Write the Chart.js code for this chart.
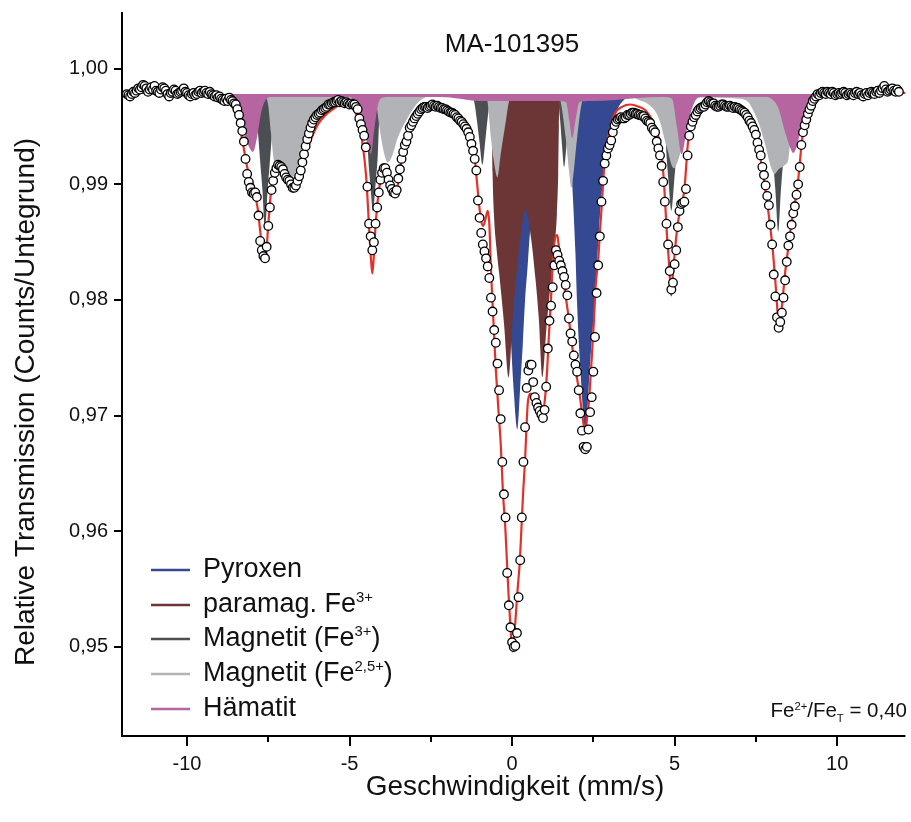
<!DOCTYPE html>
<html>
<head>
<meta charset="utf-8">
<title>MA-101395</title>
<script src="https://cdn.jsdelivr.net/npm/chart.js@4/dist/chart.umd.min.js"></script>
<style>
  html, body { margin: 0; padding: 0; background: #fff; }
  #wrap { width: 911px; height: 822px; }
</style>
</head>
<body>
<div id="wrap"><canvas id="spectrumChart" width="911" height="822"></canvas></div>
<script>
    // velocity channels (mm/s)
    var velStart = -11.85;
    var velStep = 0.05;

    // measured relative transmission, one value per channel
    var transmission = [
        0.9978, 0.9977, 0.9976, 0.9978, 0.9980, 0.9979, 0.9981, 0.9983, 0.9982, 0.9984, 0.9986, 0.9985, 0.9983, 0.9980, 0.9982, 0.9984, 0.9982, 0.9985, 0.9981, 0.9980,
        0.9979, 0.9982, 0.9984, 0.9983, 0.9981, 0.9978, 0.9976, 0.9979, 0.9980, 0.9982, 0.9981, 0.9978, 0.9979, 0.9980, 0.9981, 0.9983, 0.9980, 0.9979, 0.9977, 0.9976,
        0.9978, 0.9979, 0.9977, 0.9978, 0.9980, 0.9981, 0.9979, 0.9980, 0.9981, 0.9979, 0.9978, 0.9980, 0.9978, 0.9977, 0.9976, 0.9977, 0.9975, 0.9976, 0.9974, 0.9973,
        0.9972, 0.9974, 0.9972, 0.9975, 0.9973, 0.9972, 0.9970, 0.9969, 0.9965, 0.9960, 0.9953, 0.9946, 0.9937, 0.9922, 0.9909, 0.9902, 0.9897, 0.9893, 0.9892, 0.9893,
        0.9889, 0.9873, 0.9851, 0.9843, 0.9838, 0.9836, 0.9846, 0.9864, 0.9880, 0.9895, 0.9903, 0.9910, 0.9914, 0.9917, 0.9916, 0.9915, 0.9913, 0.9909, 0.9906, 0.9904,
        0.9903, 0.9900, 0.9897, 0.9897, 0.9899, 0.9903, 0.9907, 0.9912, 0.9919, 0.9926, 0.9933, 0.9939, 0.9944, 0.9949, 0.9953, 0.9956, 0.9958, 0.9960, 0.9961, 0.9962,
        0.9964, 0.9965, 0.9966, 0.9967, 0.9969, 0.9969, 0.9970, 0.9971, 0.9971, 0.9972, 0.9973, 0.9971, 0.9972, 0.9971, 0.9970, 0.9971, 0.9970, 0.9969, 0.9970, 0.9969,
        0.9969, 0.9967, 0.9965, 0.9957, 0.9952, 0.9947, 0.9942, 0.9932, 0.9898, 0.9866, 0.9855, 0.9843, 0.9850, 0.9866, 0.9880, 0.9893, 0.9904, 0.9910, 0.9914, 0.9914,
        0.9910, 0.9904, 0.9899, 0.9896, 0.9893, 0.9892, 0.9895, 0.9905, 0.9913, 0.9922, 0.9928, 0.9934, 0.9937, 0.9942, 0.9949, 0.9951, 0.9954, 0.9957, 0.9959, 0.9961,
        0.9963, 0.9965, 0.9966, 0.9967, 0.9967, 0.9966, 0.9967, 0.9968, 0.9969, 0.9968, 0.9967, 0.9968, 0.9967, 0.9966, 0.9966, 0.9965, 0.9965, 0.9964, 0.9963, 0.9962,
        0.9962, 0.9961, 0.9960, 0.9958, 0.9957, 0.9955, 0.9954, 0.9952, 0.9950, 0.9948, 0.9945, 0.9941, 0.9935, 0.9929, 0.9922, 0.9912, 0.9886, 0.9871, 0.9858, 0.9848,
        0.9842, 0.9836, 0.9829, 0.9819, 0.9802, 0.9790, 0.9774, 0.9763, 0.9745, 0.9722, 0.9697, 0.9660, 0.9632, 0.9612, 0.9564, 0.9536, 0.9517, 0.9504, 0.9500, 0.9501,
        0.9512, 0.9543, 0.9575, 0.9612, 0.9660, 0.9690, 0.9724, 0.9739, 0.9744, 0.9744, 0.9729, 0.9716, 0.9711, 0.9707, 0.9704, 0.9701, 0.9698, 0.9705, 0.9725, 0.9758,
        0.9782, 0.9795, 0.9811, 0.9830, 0.9843, 0.9839, 0.9834, 0.9830, 0.9825, 0.9820, 0.9813, 0.9804, 0.9784, 0.9771, 0.9764, 0.9752, 0.9744, 0.9738, 0.9722, 0.9702,
        0.9687, 0.9673, 0.9671, 0.9673, 0.9688, 0.9703, 0.9716, 0.9738, 0.9768, 0.9806, 0.9830, 0.9855, 0.9885, 0.9903, 0.9918, 0.9925, 0.9931, 0.9934, 0.9938, 0.9945,
        0.9951, 0.9954, 0.9956, 0.9957, 0.9958, 0.9957, 0.9957, 0.9958, 0.9960, 0.9960, 0.9961, 0.9962, 0.9962, 0.9961, 0.9961, 0.9960, 0.9960, 0.9959, 0.9959, 0.9957,
        0.9955, 0.9954, 0.9953, 0.9949, 0.9947, 0.9945, 0.9937, 0.9931, 0.9925, 0.9916, 0.9902, 0.9885, 0.9866, 0.9848, 0.9825, 0.9809, 0.9815, 0.9831, 0.9843, 0.9863,
        0.9877, 0.9883, 0.9884, 0.9885, 0.9896, 0.9925, 0.9942, 0.9950, 0.9954, 0.9958, 0.9960, 0.9963, 0.9965, 0.9966, 0.9967, 0.9967, 0.9969, 0.9971, 0.9972, 0.9971,
        0.9970, 0.9970, 0.9968, 0.9967, 0.9967, 0.9968, 0.9969, 0.9969, 0.9968, 0.9967, 0.9967, 0.9968, 0.9967, 0.9966, 0.9967, 0.9966, 0.9966, 0.9965, 0.9964, 0.9963,
        0.9962, 0.9960, 0.9958, 0.9955, 0.9953, 0.9950, 0.9947, 0.9943, 0.9936, 0.9930, 0.9925, 0.9915, 0.9908, 0.9899, 0.9890, 0.9882, 0.9865, 0.9848, 0.9822, 0.9803,
        0.9785, 0.9776, 0.9781, 0.9789, 0.9802, 0.9817, 0.9833, 0.9847, 0.9855, 0.9865, 0.9875, 0.9881, 0.9891, 0.9900, 0.9915, 0.9934, 0.9945, 0.9951, 0.9956, 0.9961,
        0.9965, 0.9968, 0.9972, 0.9974, 0.9976, 0.9978, 0.9977, 0.9979, 0.9980, 0.9979, 0.9978, 0.9980, 0.9979, 0.9978, 0.9980, 0.9979, 0.9977, 0.9978, 0.9979, 0.9978,
        0.9979, 0.9980, 0.9979, 0.9977, 0.9978, 0.9979, 0.9978, 0.9977, 0.9979, 0.9980, 0.9978, 0.9979, 0.9977, 0.9976, 0.9978, 0.9979, 0.9977, 0.9979, 0.9980, 0.9979,
        0.9978, 0.9980, 0.9981, 0.9979, 0.9981, 0.9983, 0.9985, 0.9982, 0.9980, 0.9981, 0.9982, 0.9983, 0.9981, 0.9980, 0.9982, 0.9980
    ];

    // fitted envelope [velocity, transmission]
    var fitCurve = [
        [-12, 0.9979], [-10, 0.9979], [-9.2, 0.9978], [-9.0, 0.9977], [-8.8, 0.9974], [-8.65, 0.9969], [-8.5, 0.9961],
        [-8.4, 0.9952], [-8.3, 0.9938], [-8.22, 0.9926], [-8.15, 0.9915], [-8.07, 0.9907], [-7.97, 0.9900], [-7.87, 0.9886],
        [-7.82, 0.9878], [-7.75, 0.9860], [-7.68, 0.9841], [-7.62, 0.9833], [-7.56, 0.9842], [-7.5, 0.9865], [-7.41, 0.9895],
        [-7.3, 0.9908], [-7.2, 0.9914], [-7.1, 0.9916], [-7.0, 0.9912], [-6.89, 0.9907], [-6.74, 0.9901], [-6.64, 0.9900],
        [-6.55, 0.9906], [-6.48, 0.9913], [-6.33, 0.9927], [-6.17, 0.9940], [-5.97, 0.9952], [-5.77, 0.9959], [-5.46, 0.9966],
        [-5.2, 0.9969], [-4.95, 0.9967], [-4.85, 0.9964], [-4.69, 0.9950], [-4.59, 0.9933], [-4.49, 0.9907], [-4.44, 0.9884],
        [-4.39, 0.9858], [-4.34, 0.9835], [-4.3, 0.9823], [-4.26, 0.9835], [-4.2, 0.9864], [-4.13, 0.9887], [-4.03, 0.9906],
        [-3.93, 0.9913], [-3.79, 0.9906], [-3.67, 0.9897], [-3.59, 0.9894], [-3.49, 0.9903], [-3.41, 0.9919], [-3.31, 0.9932],
        [-3.16, 0.9946], [-3.0, 0.9955], [-2.8, 0.9962], [-2.55, 0.9966], [-2.24, 0.9967], [-1.93, 0.9965], [-1.63, 0.9960],
        [-1.42, 0.9954], [-1.27, 0.9944], [-1.17, 0.9928], [-1.1, 0.9908], [-1.03, 0.9887], [-0.96, 0.9870], [-0.89, 0.9864],
        [-0.81, 0.9871], [-0.75, 0.9877], [-0.7, 0.9866], [-0.65, 0.9826], [-0.6, 0.9797], [-0.55, 0.9768], [-0.5, 0.9740],
        [-0.42, 0.9705], [-0.35, 0.9676], [-0.28, 0.9633], [-0.21, 0.9604], [-0.16, 0.9575], [-0.11, 0.9546], [-0.05, 0.9518],
        [0.01, 0.9496], [0.09, 0.9518], [0.16, 0.9546], [0.24, 0.9575], [0.29, 0.9604], [0.34, 0.9633], [0.4, 0.9662],
        [0.44, 0.9688], [0.48, 0.9710], [0.52, 0.9717], [0.57, 0.9719], [0.67, 0.9715], [0.78, 0.9708], [0.88, 0.9702],
        [0.93, 0.9701], [1.01, 0.9714], [1.08, 0.9740], [1.13, 0.9768], [1.19, 0.9797], [1.24, 0.9826], [1.29, 0.9846],
        [1.34, 0.9855], [1.39, 0.9856], [1.44, 0.9846], [1.54, 0.9826], [1.65, 0.9803], [1.75, 0.9783], [1.85, 0.9760],
        [1.95, 0.9740], [2.06, 0.9722], [2.14, 0.9705], [2.21, 0.9691], [2.26, 0.9688], [2.31, 0.9699], [2.36, 0.9711],
        [2.41, 0.9731], [2.46, 0.9754], [2.52, 0.9783], [2.57, 0.9812], [2.65, 0.9835], [2.7, 0.9858], [2.75, 0.9878],
        [2.8, 0.9901], [2.85, 0.9921], [2.92, 0.9936], [3.03, 0.9950], [3.18, 0.9962], [3.38, 0.9967], [3.64, 0.9969],
        [3.9, 0.9967], [4.1, 0.9964], [4.3, 0.9956], [4.46, 0.9944], [4.56, 0.9935], [4.66, 0.9907], [4.71, 0.9884],
        [4.76, 0.9858], [4.82, 0.9835], [4.87, 0.9812], [4.9, 0.9804], [4.95, 0.9823], [5.02, 0.9846], [5.09, 0.9864],
        [5.15, 0.9875], [5.22, 0.9884], [5.3, 0.9895], [5.35, 0.9913], [5.4, 0.9933], [5.45, 0.9944], [5.53, 0.9953],
        [5.68, 0.9962], [5.89, 0.9967], [6.14, 0.9970], [6.45, 0.9969], [6.76, 0.9967], [7.02, 0.9965], [7.22, 0.9959],
        [7.37, 0.9952], [7.52, 0.9939], [7.63, 0.9924], [7.73, 0.9907], [7.83, 0.9887], [7.94, 0.9864], [8.02, 0.9843],
        [8.09, 0.9820], [8.16, 0.9792], [8.21, 0.9774], [8.27, 0.9786], [8.34, 0.9806], [8.41, 0.9826], [8.5, 0.9846],
        [8.58, 0.9864], [8.68, 0.9881], [8.78, 0.9898], [8.86, 0.9921], [8.93, 0.9941], [9.01, 0.9953], [9.13, 0.9962],
        [9.32, 0.9970], [9.52, 0.9976], [9.8, 0.9978], [12.1, 0.9979]
    ];

    // subspectra [velocity, transmission], filled up to the baseline
    var baseline = 0.9978;

    var pyroxen = [
        [-12, 0.9978], [-0.4, 0.9978], [-0.3, 0.9940], [-0.15, 0.9850], [-0.05, 0.9775], [0.06, 0.9718], [0.16, 0.9688],
        [0.26, 0.9730], [0.33, 0.9762], [0.4, 0.9800], [0.47, 0.9826], [0.55, 0.9858], [0.7, 0.9890], [0.9, 0.9925],
        [1.1, 0.9950], [1.3, 0.9962], [1.5, 0.9966], [1.6, 0.9966], [1.75, 0.9940], [1.85, 0.9900], [1.95, 0.9840],
        [2.0, 0.9797], [2.1, 0.9740], [2.26, 0.9688], [2.4, 0.9745], [2.57, 0.9810], [2.65, 0.9850], [2.72, 0.9880],
        [2.8, 0.9905], [2.87, 0.9921], [3.08, 0.9950], [3.28, 0.9967], [3.44, 0.9973], [3.6, 0.9977], [3.7, 0.9978], [12.1, 0.9978]
    ];
    var paramagFe3 = [
        [-12, 0.9978], [-0.72, 0.9978], [-0.66, 0.9972], [-0.62, 0.9950], [-0.6, 0.9910], [-0.56, 0.9875], [-0.48, 0.9845],
        [-0.4, 0.9824], [-0.25, 0.9780], [-0.11, 0.9733], [0.02, 0.9785], [0.12, 0.9818], [0.25, 0.9852], [0.42, 0.9878],
        [0.59, 0.9852], [0.72, 0.9818], [0.82, 0.9785], [0.93, 0.9733], [1.07, 0.9780], [1.22, 0.9824], [1.3, 0.9845],
        [1.38, 0.9875], [1.42, 0.9910], [1.44, 0.9950], [1.48, 0.9972], [1.54, 0.9978], [12.1, 0.9978]
    ];
    var magnetitFe3 = [
        [-12, 0.9978], [-8.2, 0.9978], [-7.95, 0.9976], [-7.88, 0.9970], [-7.83, 0.9950], [-7.75, 0.9920], [-7.68, 0.9895],
        [-7.6, 0.9860], [-7.52, 0.9895], [-7.45, 0.9920], [-7.37, 0.9950], [-7.32, 0.9970], [-7.2, 0.9976],
        [-4.6, 0.9976], [-4.52, 0.9970], [-4.47, 0.9955], [-4.43, 0.9926], [-4.36, 0.9900], [-4.28, 0.9877], [-4.2, 0.9900],
        [-4.13, 0.9926], [-4.09, 0.9955], [-4.04, 0.9970], [-3.95, 0.9976],
        [-1.25, 0.9976], [-1.17, 0.9972], [-1.08, 0.9955], [-1.0, 0.9936], [-0.91, 0.9917], [-0.83, 0.9936], [-0.76, 0.9955],
        [-0.68, 0.9972], [-0.6, 0.9976],
        [1.3, 0.9976], [1.42, 0.9972], [1.48, 0.9955], [1.54, 0.9932], [1.6, 0.9915], [1.67, 0.9932], [1.74, 0.9955],
        [1.8, 0.9972], [1.9, 0.9976],
        [4.57, 0.9976], [4.65, 0.9970], [4.7, 0.9955], [4.75, 0.9926], [4.82, 0.9900], [4.9, 0.9877], [4.98, 0.9900],
        [5.05, 0.9926], [5.1, 0.9955], [5.15, 0.9970], [5.24, 0.9976],
        [7.8, 0.9976], [7.9, 0.9970], [7.95, 0.9950], [8.03, 0.9920], [8.1, 0.9895], [8.19, 0.9859], [8.27, 0.9895],
        [8.34, 0.9920], [8.42, 0.9950], [8.47, 0.9970], [8.55, 0.9976], [12.1, 0.9978]
    ];
    var magnetitFe25 = [
        [-12, 0.9978], [-7.7, 0.9978], [-7.58, 0.9976], [-7.5, 0.9968], [-7.42, 0.9945], [-7.3, 0.9917], [-7.0, 0.9910],
        [-6.79, 0.9905], [-6.55, 0.9918], [-6.33, 0.9935], [-6.1, 0.9952], [-5.87, 0.9966], [-5.6, 0.9973], [-5.4, 0.9975],
        [-4.4, 0.9975], [-4.18, 0.9969], [-4.08, 0.9949], [-3.93, 0.9926], [-3.82, 0.9919], [-3.67, 0.9926], [-3.52, 0.9940],
        [-3.26, 0.9955], [-2.85, 0.9972], [-2.5, 0.9976],
        [-0.85, 0.9976], [-0.76, 0.9972], [-0.65, 0.9940], [-0.55, 0.9918], [-0.45, 0.9906], [-0.35, 0.9926], [-0.19, 0.9955],
        [-0.09, 0.9972], [0.0, 0.9976],
        [1.4, 0.9976], [1.49, 0.9972], [1.65, 0.9940], [1.75, 0.9912], [1.82, 0.9897], [1.9, 0.9912], [2.0, 0.9940],
        [2.16, 0.9972], [2.3, 0.9976],
        [3.6, 0.9976], [3.9, 0.9973], [4.2, 0.9969], [4.5, 0.9958], [4.76, 0.9932], [4.97, 0.9914], [5.12, 0.9922],
        [5.22, 0.9932], [5.35, 0.9955], [5.55, 0.9973], [5.8, 0.9975],
        [7.0, 0.9974], [7.27, 0.9971], [7.4, 0.9965], [7.6, 0.9952], [7.78, 0.9935], [7.95, 0.9916], [8.08, 0.9909],
        [8.2, 0.9913], [8.4, 0.9917], [8.5, 0.9922], [8.58, 0.9945], [8.7, 0.9972], [8.9, 0.9978], [12.1, 0.9978]
    ];
    var haematit = [
        [-12, 0.9978], [-8.9, 0.9978], [-8.8, 0.99765], [-8.6, 0.9974], [-8.45, 0.9964], [-8.27, 0.9946], [-8.12, 0.9934],
        [-7.97, 0.9928], [-7.85, 0.9940], [-7.72, 0.9962], [-7.6, 0.9972], [-7.4, 0.99755],
        [-5.5, 0.99755], [-4.95, 0.9975], [-4.8, 0.9966], [-4.59, 0.9949], [-4.42, 0.9932], [-4.34, 0.9926], [-4.25, 0.9945],
        [-4.15, 0.9965], [-4.05, 0.9974], [-3.8, 0.99755],
        [-2.2, 0.99755], [-1.6, 0.9974], [-1.0, 0.9972], [0.5, 0.9972], [1.4, 0.9972], [1.66, 0.9971], [1.76, 0.9955],
        [1.85, 0.9940], [1.95, 0.9955], [2.07, 0.9971], [2.4, 0.9972], [3.2, 0.9973], [3.8, 0.99745],
        [4.7, 0.99755], [4.92, 0.9974], [5.07, 0.9950], [5.22, 0.9926], [5.33, 0.9940], [5.43, 0.9955], [5.63, 0.9972],
        [5.8, 0.99755],
        [7.8, 0.99755], [7.98, 0.9974], [8.19, 0.9966], [8.4, 0.9945], [8.55, 0.9932], [8.65, 0.9927], [8.75, 0.9932],
        [8.9, 0.9949], [9.16, 0.9966], [9.35, 0.9975], [9.5, 0.9978], [12.1, 0.9978]
    ];

    var legendLabels = ['Pyroxen', 'paramag. Fe^{3+}', 'Magnetit (Fe^{3+})', 'Magnetit (Fe^{2,5+})', 'Hämatit'];
    var legendColors = ['#344991', '#6c3636', '#4b4e53', '#b2b3b7', '#b665a0'];

    var xTicks = [-10, -5, 0, 5, 10];
    var xMinorTicks = [-7.5, -2.5, 2.5, 7.5];
    var yTicks = [0.95, 0.96, 0.97, 0.98, 0.99, 1.00];

    var FONT = '"Liberation Sans", Arial, Helvetica, sans-serif';
    Chart.defaults.font.family = FONT;
    Chart.defaults.color = '#111';

    function toPoints(pairs) {
        return pairs.map(function (p) { return { x: p[0], y: p[1] }; });
    }

    var measured = transmission.map(function (t, i) {
        return { x: velStart + i * velStep, y: t };
    });

    function subspectrum(pairs, color, order) {
        return {
            data: toPoints(pairs),
            showLine: true,
            borderWidth: 0,
            borderColor: color,
            backgroundColor: color,
            fill: { value: baseline },
            pointRadius: 0,
            cubicInterpolationMode: 'monotone',
            order: order
        };
    }

    // text with ^{...} superscripts and _{...} subscripts
    function drawRich(ctx, text, x, y, size, align) {
        var parts = text.split(/(\^\{[^}]*\}|_\{[^}]*\})/).filter(function (s) { return s.length; });
        var items = parts.map(function (s) {
            if (s.charAt(0) === '^') return { t: s.slice(2, -1), size: size * 0.55, dy: -size * 0.36 };
            if (s.charAt(0) === '_') return { t: s.slice(2, -1), size: size * 0.55, dy: size * 0.22 };
            return { t: s, size: size, dy: 0 };
        });
        var total = 0;
        items.forEach(function (it) {
            ctx.font = it.size + 'px ' + FONT;
            it.w = ctx.measureText(it.t).width;
            total += it.w;
        });
        var cx = align === 'right' ? x - total : (align === 'center' ? x - total / 2 : x);
        ctx.textAlign = 'left';
        ctx.textBaseline = 'alphabetic';
        items.forEach(function (it) {
            ctx.font = it.size + 'px ' + FONT;
            ctx.fillText(it.t, cx, y + it.dy);
            cx += it.w;
        });
    }

    var decorations = {
        id: 'decorations',
        afterDraw: function (chart) {
            var ctx = chart.ctx, a = chart.chartArea;
            var xs = chart.scales.x, ys = chart.scales.y;
            ctx.save();

            // axes and tick marks
            ctx.strokeStyle = '#000';
            ctx.lineWidth = 2;
            ctx.beginPath();
            ctx.moveTo(a.left, a.top);
            ctx.lineTo(a.left, a.bottom + 1);
            ctx.moveTo(a.left - 1, a.bottom);
            ctx.lineTo(a.right, a.bottom);
            yTicks.forEach(function (v) {
                var py = Math.round(ys.getPixelForValue(v));
                ctx.moveTo(a.left - 8, py);
                ctx.lineTo(a.left, py);
            });
            xTicks.forEach(function (v) {
                var px = Math.round(xs.getPixelForValue(v));
                ctx.moveTo(px, a.bottom);
                ctx.lineTo(px, a.bottom + 10);
            });
            xMinorTicks.forEach(function (v) {
                var px = Math.round(xs.getPixelForValue(v));
                ctx.moveTo(px, a.bottom);
                ctx.lineTo(px, a.bottom + 6);
            });
            ctx.stroke();

            ctx.fillStyle = '#111';
            ctx.textAlign = 'center';
            ctx.textBaseline = 'alphabetic';
            ctx.font = '26px ' + FONT;
            ctx.fillText('MA-101395', 512, 52);

            ctx.font = '28px ' + FONT;
            ctx.fillText('Geschwindigkeit (mm/s)', 515, 795);

            ctx.save();
            ctx.translate(34, 402);
            ctx.rotate(-Math.PI / 2);
            ctx.fillText('Relative Transmission (Counts/Untegrund)', 0, 0);
            ctx.restore();

            // legend
            legendLabels.forEach(function (label, i) {
                var rowY = [570, 605, 639, 674, 709][i];
                ctx.strokeStyle = legendColors[i];
                ctx.lineWidth = 2.4;
                ctx.beginPath();
                ctx.moveTo(151, rowY);
                ctx.lineTo(190, rowY);
                ctx.stroke();
                ctx.fillStyle = '#111';
                drawRich(ctx, label, 203, rowY + 7, 27, 'left');
            });

            drawRich(ctx, 'Fe^{2+}/Fe_{T} = 0,40', 907, 717, 20.5, 'right');
            ctx.restore();
        }
    };

    function noScalePadding(scale) {
        scale.paddingTop = 0;
        scale.paddingBottom = 0;
        scale.paddingLeft = 0;
        scale.paddingRight = 0;
    }

    var ctx = document.getElementById('spectrumChart').getContext('2d');
    var spectrumChart = new Chart(ctx, {
        type: 'line',
        data: {
            datasets: [
                {
                    data: measured,
                    showLine: false,
                    pointRadius: 4.3,
                    pointBackgroundColor: '#fff',
                    pointBorderColor: '#000',
                    pointBorderWidth: 1.3,
                    order: 0
                },
                {
                    data: toPoints(fitCurve),
                    borderColor: '#e43028',
                    borderWidth: 2.2,
                    pointRadius: 0,
                    fill: false,
                    cubicInterpolationMode: 'monotone',
                    order: 1
                },
                subspectrum(haematit, legendColors[4], 2),
                subspectrum(magnetitFe25, legendColors[3], 3),
                subspectrum(magnetitFe3, legendColors[2], 4),
                subspectrum(paramagFe3, legendColors[1], 5),
                subspectrum(pyroxen, legendColors[0], 6)
            ]
        },
        options: {
            responsive: false,
            animation: false,
            devicePixelRatio: 1,
            events: [],
            layout: { padding: { top: 12, right: 2, left: 0, bottom: 0 } },
            plugins: {
                legend: { display: false },
                tooltip: { enabled: false }
            },
            scales: {
                x: {
                    type: 'linear',
                    min: -12,
                    max: 12.1,
                    grid: { display: false, drawTicks: false },
                    border: { display: false },
                    ticks: {
                        font: { size: 20 },
                        padding: 16,
                        autoSkip: false,
                        maxRotation: 0,
                        callback: function (v) { return String(v); }
                    },
                    afterBuildTicks: function (scale) {
                        scale.ticks = xTicks.map(function (v) { return { value: v }; });
                    },
                    afterFit: function (scale) {
                        scale.height = 86;
                        noScalePadding(scale);
                    }
                },
                y: {
                    type: 'linear',
                    min: 0.9423,
                    max: 1.0049,
                    grid: { display: false, drawTicks: false },
                    border: { display: false },
                    ticks: {
                        font: { size: 20 },
                        padding: 14,
                        autoSkip: false,
                        callback: function (v) { return v.toFixed(2).replace('.', ','); }
                    },
                    afterBuildTicks: function (scale) {
                        scale.ticks = yTicks.map(function (v) { return { value: v }; });
                    },
                    afterFit: function (scale) {
                        scale.width = 122;
                        noScalePadding(scale);
                    }
                }
            }
        },
        plugins: [decorations]
    });
</script>
</body>
</html>
